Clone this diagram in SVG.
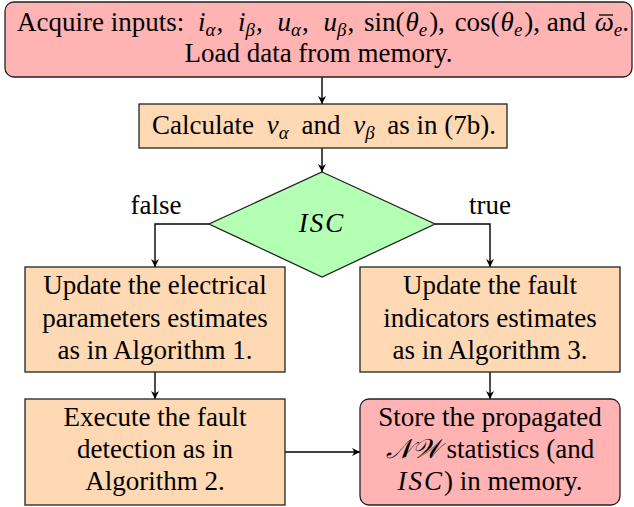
<svg xmlns="http://www.w3.org/2000/svg" width="634" height="507" viewBox="0 0 634 507">
<defs>
<marker id="arr" viewBox="0 0 10 10" refX="10" refY="5" markerWidth="8" markerHeight="8" markerUnits="userSpaceOnUse" orient="auto">
<path d="M0,0 L10,5 L0,10 L3,5 Z" fill="#000"/>
</marker>
<style>
.t{font-family:"Liberation Serif","Times New Roman",serif;font-size:27px;fill:#000;text-anchor:middle}
.l{text-anchor:start}
.r{text-anchor:end}
.m{font-style:italic}
.s{font-size:19px;font-style:italic}
.red{fill:#ffb3b3;stroke:#222;stroke-width:1.3}
.org{fill:#ffd9b3;stroke:#222;stroke-width:1.3}
.grn{fill:#b3ffb3;stroke:#222;stroke-width:1.3}
.c{fill:none;stroke:#000;stroke-width:1.4;marker-end:url(#arr)}
</style>
</defs>
<g id="connectors">
<line class="c" x1="322" y1="77" x2="322" y2="104"/>
<line class="c" x1="322" y1="148" x2="322" y2="172"/>
<polyline class="c" points="209,224 155,224 155,267"/>
<polyline class="c" points="435,224 490,224 490,267"/>
<line class="c" x1="155" y1="372" x2="155" y2="399"/>
<line class="c" x1="490" y1="372" x2="490" y2="399"/>
<line class="c" x1="285" y1="452" x2="360" y2="452"/>
<text class="t" x="156" y="214">false</text>
<text class="t" x="490" y="214">true</text>
</g>
<g id="acquire">
<rect class="red" x="5" y="2" width="627" height="75" rx="9"/>
<text class="t l" x="17" y="31">Acquire inputs: <tspan class="m" dx="7">i</tspan><tspan class="s" dy="5">α</tspan><tspan dy="-5" dx="1">, </tspan><tspan class="m" dx="8">i</tspan><tspan class="s" dy="5">β</tspan><tspan dy="-5" dx="1">, </tspan><tspan class="m" dx="8">u</tspan><tspan class="s" dy="5">α</tspan><tspan dy="-5" dx="1">, </tspan><tspan class="m" dx="8">u</tspan><tspan class="s" dy="5">β</tspan><tspan dy="-5" dx="1">, </tspan><tspan dx="3">sin(</tspan><tspan class="m" dx="1">θ</tspan><tspan class="s" dy="5">e</tspan><tspan dy="-5" dx="2">), </tspan><tspan dx="3">cos(</tspan><tspan class="m" dx="1">θ</tspan><tspan class="s" dy="5">e</tspan><tspan dy="-5" dx="2">), and</tspan></text>
<text class="t r" x="629" y="31"><tspan class="m">ω</tspan><tspan class="s" dy="5">e</tspan><tspan dy="-5">.</tspan></text>
<line x1="599" y1="15" x2="613" y2="15" stroke="#000" stroke-width="1.3"/>
<text class="t" x="318.5" y="62">Load data from memory.</text>
</g>
<g id="calculate">
<rect class="org" x="139" y="104" width="368" height="44"/>
<text class="t l" x="152" y="134">Calculate <tspan class="m" dx="6">v</tspan><tspan class="s" dy="5">α</tspan><tspan dy="-5" dx="6"> and </tspan><tspan class="m" dx="6">v</tspan><tspan class="s" dy="5">β</tspan><tspan dy="-5" dx="6"> as in (7b).</tspan></text>
</g>
<g id="isc">
<polygon class="grn" points="322,172 435,224 322,277 209,224"/>
<text class="t m" x="322" y="232" letter-spacing="2">ISC</text>
</g>
<g id="update-electrical">
<rect class="org" x="25" y="267" width="260" height="105"/>
<text class="t" x="155" y="294">Update the electrical</text>
<text class="t" x="155" y="326.5">parameters estimates</text>
<text class="t" x="155" y="359">as in Algorithm 1.</text>
</g>
<g id="update-fault">
<rect class="org" x="360" y="267" width="260" height="105"/>
<text class="t" x="490" y="294">Update the fault</text>
<text class="t" x="490" y="326.5">indicators estimates</text>
<text class="t" x="490" y="359">as in Algorithm 3.</text>
</g>
<g id="execute">
<rect class="org" x="25" y="399" width="260" height="106"/>
<text class="t" x="155" y="426">Execute the fault</text>
<text class="t" x="155" y="458">detection as in</text>
<text class="t" x="155" y="490">Algorithm 2.</text>
</g>
<g id="store">
<rect class="red" x="360" y="399" width="260" height="106" rx="9"/>
<text class="t" x="490" y="426">Store the propagated</text>
<text class="t" x="490" y="458"><tspan class="m">𝒩𝒲</tspan> statistics (and</text>
<text class="t" x="490" y="490"><tspan class="m" letter-spacing="2">ISC</tspan>) in memory.</text>
</g>
</svg>
